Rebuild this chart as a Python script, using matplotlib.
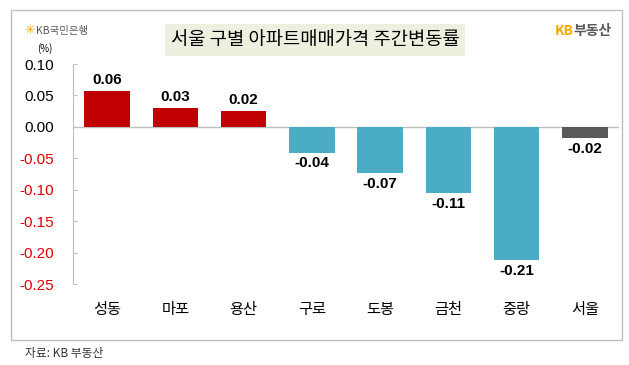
import matplotlib.pyplot as plt
from matplotlib.patches import Rectangle
import numpy as np

plt.rcParams['font.family'] = ['Noto Sans CJK KR', 'DejaVu Sans']

districts = ['성동', '마포', '용산', '구로', '도봉', '금천', '중랑', '서울']
changes = [0.057, 0.030, 0.025, -0.041, -0.073, -0.105, -0.212, -0.018]
labels = ['0.06', '0.03', '0.02', '-0.04', '-0.07', '-0.11', '-0.21', '-0.02']
yticks = [0.10, 0.05, 0.00, -0.05, -0.10, -0.15, -0.20, -0.25]


def bar_color(name, v):
    if name == '서울':
        return '#595959'
    return '#C00000' if v > 0 else '#4BACC6'


fig = plt.figure(figsize=(6.29, 3.65), dpi=100)
fig.patch.set_facecolor('white')

# outer frame
fig.patches.append(Rectangle((11 / 629, 1 - 340 / 365), 611 / 629, 330 / 365,
                             transform=fig.transFigure, fill=False,
                             edgecolor='#BFBFBF', linewidth=1.0))

ax = fig.add_axes([73 / 629, 1 - 284 / 365, 546 / 629, 220 / 365])
x = np.arange(len(districts))
colors = [bar_color(n, v) for n, v in zip(districts, changes)]
ax.bar(x, changes, width=0.67, color=colors, zorder=2)
ax.axhline(0, color='#BFBFBF', linewidth=1.0, zorder=1)

for xi, v, lab in zip(x, changes, labels):
    off = 0.006 if v > 0 else -0.006
    ax.text(xi, v + off, lab, ha='center', va='bottom' if v > 0 else 'top',
            fontsize=11, fontweight='bold', family='Liberation Sans')

ax.set_xlim(-0.5, len(districts) - 0.5)
ax.set_ylim(-0.25, 0.10)
ax.set_yticks(yticks)
ax.set_yticklabels(['%.2f' % t for t in yticks], family='Liberation Sans',
                   fontsize=11)
for t, lab in zip(yticks, ax.get_yticklabels()):
    lab.set_color('#E00000' if t < 0 else 'black')
ax.tick_params(axis='y', direction='in', length=3, color='#BFBFBF', pad=14)
ax.set_xticks(x)
ax.set_xticklabels(districts, fontsize=11)
ax.tick_params(axis='x', length=0, pad=12)
for s in ['top', 'right', 'bottom']:
    ax.spines[s].set_visible(False)
ax.spines['left'].set_color('#BFBFBF')

fig.text(45 / 629, 1 - 49 / 365, '(%)', fontsize=7, ha='center', va='center')

# title box
fig.text(315 / 629, 1 - 40 / 365, '서울 구별 아파트매매가격 주간변동률', fontsize=13.5,
         ha='center', va='center',
         bbox=dict(boxstyle='square,pad=0.3', facecolor='#EBF1DE',
                   edgecolor='none'))

fig.text(24 / 629, 1 - 31 / 365, '✳', fontsize=9, color='#F2A900',
         ha='left', va='center', family='DejaVu Sans')
fig.text(36 / 629, 1 - 31 / 365, 'KB국민은행', fontsize=7.5, color='#595959',
         ha='left', va='center')
fig.text(555 / 629, 1 - 31 / 365, 'KB', fontsize=10, color='#F2A900',
         fontweight='bold', ha='left', va='center')
fig.text(573 / 629, 1 - 31 / 365, '부동산', fontsize=10, color='#595959',
         fontweight='bold', ha='left', va='center')

fig.text(25 / 629, 1 - 353 / 365, '자료: KB 부동산', fontsize=8.5,
         color='#333333', ha='left', va='center')

fig.savefig('out.png', dpi=100)
